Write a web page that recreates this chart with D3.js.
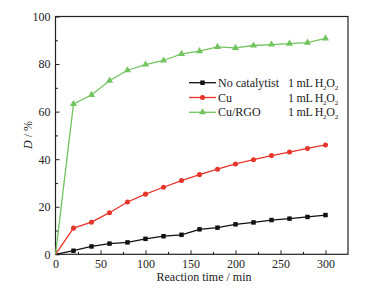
<!DOCTYPE html>
<html>
<head>
<meta charset="utf-8">
<script src="https://cdn.jsdelivr.net/npm/d3@7"></script>
<style>
  body { margin: 0; background: #fff; }
  svg { display: block; font-family: "Liberation Serif", "Times New Roman", serif; }
</style>
</head>
<body>
<svg width="375" height="290"></svg>
<script>
const times = [0, 20, 40, 60, 80, 100, 120, 140, 160, 180, 200, 220, 240, 260, 280, 300];
const noCat = [0, 1.5, 3.3, 4.5, 5.0, 6.5, 7.6, 8.2, 10.5, 11.2, 12.6, 13.4, 14.4, 15.0, 15.7, 16.5];
const cu = [0, 11.0, 13.5, 17.5, 22.0, 25.3, 28.2, 31.0, 33.5, 35.8, 38.0, 39.8, 41.5, 43.0, 44.5, 46.0];
const cuRgo = [0, 63.2, 67.0, 73.0, 77.4, 79.8, 81.5, 84.3, 85.4, 87.2, 86.8, 87.8, 88.2, 88.6, 89.0, 90.8];
const xTicks = [0, 50, 100, 150, 200, 250, 300];
const yTicks = [0, 20, 40, 60, 80, 100];

const series = [
    { name: "No catalytist", values: noCat, color: "#111111", symbol: d3.symbolSquare },
    { name: "Cu", values: cu, color: "#e8352b", symbol: d3.symbolCircle },
    { name: "Cu/RGO", values: cuRgo, color: "#72c45f", symbol: d3.symbolTriangle }
];

const svg = d3.select("svg");
const area = { left: 55.5, right: 348, top: 16.5, bottom: 254.3 };

const scX = d3.scaleLinear().domain([0, 325]).range([area.left, area.right]);
const scY = d3.scaleLinear().domain([0, 100]).range([area.bottom, area.top]);

// frame
svg.append("rect")
    .attr("x", area.left).attr("y", area.top)
    .attr("width", area.right - area.left).attr("height", area.bottom - area.top)
    .attr("fill", "none").attr("stroke", "#222").attr("stroke-width", 1.2);

// x axis
const gx = svg.append("g").attr("transform", `translate(0, ${area.bottom})`);
gx.call(d3.axisBottom(scX).tickValues(xTicks).tickSize(-4).tickPadding(5));
gx.append("g").call(d3.axisBottom(scX).tickValues(d3.range(25, 325, 50)).tickSize(-2.5).tickFormat(""));
gx.selectAll(".domain").remove();
gx.selectAll("line").attr("stroke", "#222");
gx.selectAll("text").attr("font-size", 12).attr("fill", "#222").attr("font-family", "Liberation Serif");

// y axis
const gy = svg.append("g").attr("transform", `translate(${area.left}, 0)`);
gy.call(d3.axisLeft(scY).tickValues(yTicks).tickSize(-4).tickPadding(5));
gy.append("g").call(d3.axisLeft(scY).tickValues(d3.range(10, 100, 20)).tickSize(-2.5).tickFormat(""));
gy.selectAll(".domain").remove();
gy.selectAll("line").attr("stroke", "#222");
gy.selectAll("text").attr("font-size", 12).attr("fill", "#222").attr("font-family", "Liberation Serif");

// axis titles
svg.append("text")
    .attr("x", 204).attr("y", 281)
    .attr("text-anchor", "middle").attr("font-size", 12).attr("fill", "#222")
    .text("Reaction time / min");

const yt = svg.append("text")
    .attr("transform", `translate(32, 135) rotate(-90)`)
    .attr("text-anchor", "middle").attr("font-size", 12).attr("fill", "#222");
yt.append("tspan").attr("font-style", "italic").text("D");
yt.append("tspan").text(" / %");

// lines and markers
const line = d3.line()
    .x((d, i) => scX(times[i]))
    .y(d => scY(d));

series.forEach(s => {
    svg.append("path")
        .datum(s.values)
        .attr("fill", "none")
        .attr("stroke", s.color)
        .attr("stroke-width", 1.3)
        .attr("d", line);
    svg.selectAll(null)
        .data(s.values.slice(1))
        .enter()
        .append("path")
        .attr("d", d3.symbol().type(s.symbol).size(s.symbol === d3.symbolTriangle ? 22 : 20))
        .attr("transform", (d, i) => `translate(${scX(times[i + 1])}, ${scY(d)})`)
        .attr("fill", s.color);
});

// legend
const legend = svg.append("g");
series.forEach((s, i) => {
    const y = 82.7 + i * 14.8;
    legend.append("line")
        .attr("x1", 189).attr("x2", 216).attr("y1", y).attr("y2", y)
        .attr("stroke", s.color).attr("stroke-width", 1.3);
    legend.append("path")
        .attr("d", d3.symbol().type(s.symbol).size(s.symbol === d3.symbolTriangle ? 22 : 20))
        .attr("transform", `translate(202.5, ${y})`)
        .attr("fill", s.color);
    legend.append("text")
        .attr("x", 218).attr("y", y + 4)
        .attr("font-size", 12).attr("fill", "#222")
        .text(s.name);
    const t = legend.append("text")
        .attr("x", 288).attr("y", y + 4)
        .attr("font-size", 12).attr("fill", "#222")
        .attr("letter-spacing", -0.3);
    t.append("tspan").text("1 mL H");
    t.append("tspan").attr("font-size", 7).attr("dy", 3).text("2");
    t.append("tspan").attr("dy", -3).text("O");
    t.append("tspan").attr("font-size", 7).attr("dy", 3).text("2");
});
</script>
</body>
</html>
